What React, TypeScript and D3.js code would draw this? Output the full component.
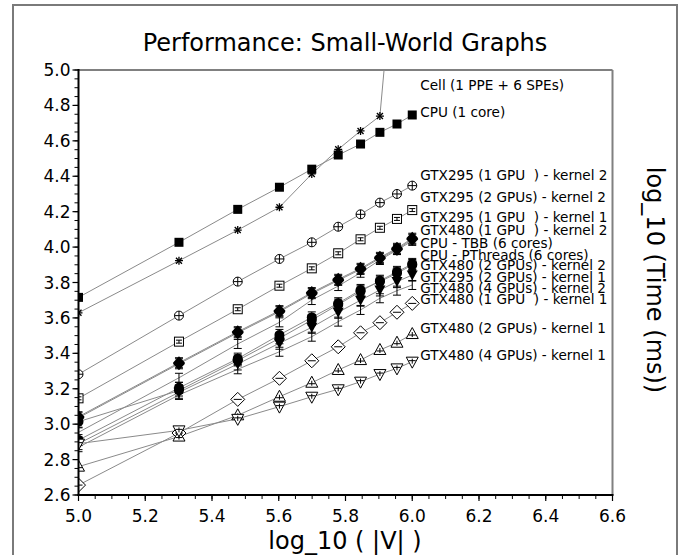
import React from "react";
import * as d3 from "d3";

// ---------- data ----------
const X_LOG = [5.0, 5.30103, 5.47712, 5.60206, 5.69897, 5.77815, 5.8451, 5.90309, 5.95424, 6.0];

const CELL = [3.629, 3.923, 4.096, 4.225, 4.413, 4.552, 4.656, 4.74, 5.81];
const CPU_1 = [3.716, 4.027, 4.213, 4.338, 4.44, 4.52, 4.582, 4.648, 4.695, 4.746];
const GTX295_1_K2 = [3.282, 3.613, 3.805, 3.933, 4.027, 4.115, 4.185, 4.251, 4.3, 4.347];
const GTX295_2_K2 = [3.146, 3.466, 3.649, 3.782, 3.88, 3.965, 4.044, 4.109, 4.159, 4.209];
const GTX295_1_K1 = [2.954, 3.262, 3.453, 3.575, 3.701, 3.78, 3.855, 3.927, 3.983, 4.035];
const GTX480_1_K2 = [3.036, 3.341, 3.516, 3.635, 3.737, 3.812, 3.874, 3.936, 3.987, 4.044];
const CPU_TBB = [3.042, 3.347, 3.522, 3.641, 3.743, 3.818, 3.88, 3.942, 3.993, 4.05];
const CPU_PTHREADS = [3.014, 3.19, 3.36, 3.485, 3.588, 3.675, 3.75, 3.81, 3.86, 3.905];
const GTX480_2_K2 = [2.91, 3.205, 3.37, 3.504, 3.603, 3.683, 3.758, 3.805, 3.852, 3.899];
const GTX295_2_K1 = [2.89, 3.18, 3.34, 3.457, 3.547, 3.632, 3.7, 3.758, 3.805, 3.842];
const GTX480_4_K2 = [2.87, 3.165, 3.31, 3.409, 3.494, 3.579, 3.645, 3.711, 3.754, 3.786];
const GTX480_1_K1 = [2.656, 2.95, 3.14, 3.259, 3.358, 3.437, 3.516, 3.573, 3.632, 3.682];
const GTX480_2_K1 = [2.76, 2.93, 3.05, 3.155, 3.234, 3.306, 3.362, 3.419, 3.46, 3.509];
const GTX480_4_K1 = [2.89, 2.965, 3.03, 3.099, 3.155, 3.197, 3.24, 3.283, 3.315, 3.353];

const SERIES_NAMES = [
  "Cell (1 PPE + 6 SPEs)",
  "CPU (1 core)",
  "GTX295 (1 GPU  ) - kernel 2",
  "GTX295 (2 GPUs) - kernel 2",
  "GTX295 (1 GPU  ) - kernel 1",
  "GTX480 (1 GPU  ) - kernel 2",
  "CPU - TBB (6 cores)",
  "CPU - PThreads (6 cores)",
  "GTX480 (2 GPUs) - kernel 2",
  "GTX295 (2 GPUs) - kernel 1",
  "GTX480 (4 GPUs) - kernel 2",
  "GTX480 (1 GPU  ) - kernel 1",
  "GTX480 (2 GPUs) - kernel 1",
  "GTX480 (4 GPUs) - kernel 1",
];
const SERIES_VALUES = [
  CELL, CPU_1, GTX295_1_K2, GTX295_2_K2, GTX295_1_K1, GTX480_1_K2, CPU_TBB,
  CPU_PTHREADS, GTX480_2_K2, GTX295_2_K1, GTX480_4_K2, GTX480_1_K1, GTX480_2_K1, GTX480_4_K1,
];

const X_TICKS = [5.0, 5.2, 5.4, 5.6, 5.8, 6.0, 6.2, 6.4, 6.6];
const Y_TICKS = [2.6, 2.8, 3.0, 3.2, 3.4, 3.6, 3.8, 4.0, 4.2, 4.4, 4.6, 4.8, 5.0];

// ---------- layout / style ----------
const MARKERS = [
  "asterisk", "filledSquare", "openCircle", "openSquare", "bar", "filledDiamond",
  "filledDiamond", "filledCircle", "filledCircle", "filledTriDown", "bar",
  "openDiamond", "openTriUp", "openTriDown",
];
// label anchor heights (in axis units)
const LABEL_AT = [4.915, 4.765, 4.407, 4.284, 4.172, 4.096, 4.025, 3.955, 3.899, 3.833, 3.767, 3.705, 3.541, 3.391];

const W = 679;
const H = 555;
const PLOT = { left: 78.5, right: 612.5, top: 70, bottom: 495 };
const LINE_COLOR = "#8a8a8a";
const FONT = "DejaVu Sans, sans-serif";

function Marker({ type, x, y }: { type: string; x: number; y: number }) {
  const k = "#000";
  const bar = (h: number, w: number) => (
    <g stroke={k} strokeWidth={1}>
      <line x1={x} x2={x} y1={y - h} y2={y + h} />
      <line x1={x - w} x2={x + w} y1={y - h} y2={y - h} />
      <line x1={x - w} x2={x + w} y1={y + h} y2={y + h} />
    </g>
  );
  switch (type) {
    case "asterisk": {
      const r = 4;
      return (
        <g stroke={k} strokeWidth={1.3}>
          <line x1={x - r} x2={x + r} y1={y} y2={y} />
          <line x1={x} x2={x} y1={y - r} y2={y + r} />
          <line x1={x - r * 0.75} x2={x + r * 0.75} y1={y - r * 0.75} y2={y + r * 0.75} />
          <line x1={x - r * 0.75} x2={x + r * 0.75} y1={y + r * 0.75} y2={y - r * 0.75} />
        </g>
      );
    }
    case "filledSquare":
      return <rect x={x - 4.5} y={y - 4.5} width={9} height={9} fill={k} />;
    case "openCircle":
      return (
        <g>
          <circle cx={x} cy={y} r={4.5} fill="#fff" stroke={k} strokeWidth={1} />
          <line x1={x} x2={x} y1={y - 4.5} y2={y + 4.5} stroke={k} />
          <line x1={x - 4.5} x2={x + 4.5} y1={y} y2={y} stroke={k} />
        </g>
      );
    case "openSquare":
      return (
        <g>
          <rect x={x - 4.5} y={y - 4.5} width={9} height={9} fill="#fff" stroke={k} strokeWidth={1} />
          <line x1={x - 3} x2={x + 3} y1={y - 1.5} y2={y - 1.5} stroke={k} />
          <line x1={x - 3} x2={x + 3} y1={y + 1.5} y2={y + 1.5} stroke={k} />
          <line x1={x} x2={x} y1={y - 1.5} y2={y + 1.5} stroke={k} />
        </g>
      );
    case "filledDiamond":
      return (
        <g>
          <path d={`M${x},${y - 6.5}L${x + 6},${y}L${x},${y + 6.5}L${x - 6},${y}Z`} fill={k} />
          {bar(5, 4)}
        </g>
      );
    case "filledCircle":
      return (
        <g>
          <circle cx={x} cy={y} r={5} fill={k} />
          {bar(5.5, 4)}
        </g>
      );
    case "filledTriDown":
      return (
        <g>
          <path d={`M${x - 5.5},${y - 4.5}L${x + 5.5},${y - 4.5}L${x},${y + 5.5}Z`} fill={k} />
          {bar(6, 4)}
        </g>
      );
    case "bar":
      return bar(4.5, 4);
    case "openDiamond":
      return (
        <g>
          <path d={`M${x},${y - 7}L${x + 7},${y}L${x},${y + 7}L${x - 7},${y}Z`} fill="#fff" stroke={k} strokeWidth={1} />
          <line x1={x - 4} x2={x + 4} y1={y} y2={y} stroke={k} />
        </g>
      );
    case "openTriUp":
      return (
        <g>
          <path d={`M${x},${y - 6.5}L${x + 6},${y + 4.5}L${x - 6},${y + 4.5}Z`} fill="#fff" stroke={k} strokeWidth={1} />
          <line x1={x - 3.5} x2={x + 3.5} y1={y + 1} y2={y + 1} stroke={k} />
          <line x1={x} x2={x} y1={y - 2} y2={y + 3} stroke={k} />
        </g>
      );
    case "openTriDown":
      return (
        <g>
          <path d={`M${x - 6},${y - 4.5}L${x + 6},${y - 4.5}L${x},${y + 6.5}Z`} fill="#fff" stroke={k} strokeWidth={1} />
          <line x1={x - 3.5} x2={x + 3.5} y1={y - 1} y2={y - 1} stroke={k} />
          <line x1={x} x2={x} y1={y - 3} y2={y + 2} stroke={k} />
        </g>
      );
    default:
      return null;
  }
}

export default function App() {
  const x = d3.scaleLinear().domain([5.0, 6.6]).range([PLOT.left, PLOT.right]);
  const y = d3.scaleLinear().domain([2.6, 5.0]).range([PLOT.bottom, PLOT.top]);

  const line = d3
    .line<[number, number]>()
    .x((d) => x(d[0]))
    .y((d) => y(d[1]));

  const minorX = d3.range(0, 33).map((i) => 5.0 + i * 0.05);
  const minorY = d3.range(0, 49).map((i) => 2.6 + i * 0.05);

  const seriesPts = SERIES_VALUES.map((vals) => vals.map((v, i) => [X_LOG[i], v] as [number, number]));

  return (
    <svg
      width={W}
      height={H}
      style={{ position: "absolute", left: 0, top: 0, background: "#fff" }}
      fontFamily={FONT}
    >
      <defs>
        <clipPath id="plotClip">
          <rect x={PLOT.left} y={PLOT.top} width={PLOT.right - PLOT.left} height={PLOT.bottom - PLOT.top} />
        </clipPath>
      </defs>
      <rect x={0} y={0} width={W} height={H} fill="#fff" />
      {/* outer frame */}
      <rect x={13} y={5} width={664} height={H + 20} fill="none" stroke="#7a7a7a" strokeWidth={2} />

      {/* title */}
      <text x={345} y={51} textAnchor="middle" fontSize={24} fill="#000">
        Performance: Small-World Graphs
      </text>

      {/* plot border (top / right) */}
      <line x1={PLOT.left} x2={PLOT.right} y1={PLOT.top} y2={PLOT.top} stroke="#808080" strokeWidth={2} />
      <line x1={PLOT.right} x2={PLOT.right} y1={PLOT.top} y2={PLOT.bottom} stroke="#808080" strokeWidth={2} />

      {/* series lines */}
      <g clipPath="url(#plotClip)">
        {seriesPts.map((pts, si) => (
          <path key={si} d={line(pts) || ""} fill="none" stroke={LINE_COLOR} strokeWidth={1} />
        ))}
      </g>

      {/* markers */}
      <g clipPath="url(#plotClip)">
        {seriesPts.map((pts, si) =>
          pts.map((p, pi) => <Marker key={`${si}-${pi}`} type={MARKERS[si]} x={x(p[0])} y={y(p[1])} />)
        )}
      </g>

      {/* series labels */}
      {SERIES_NAMES.map((name, si) => (
        <text
          key={name}
          x={x(6.0) + 8}
          y={y(LABEL_AT[si])}
          dominantBaseline="central"
          fontSize={13.6}
          fill="#000"
          style={{ whiteSpace: "pre" }}
        >
          {name}
        </text>
      ))}

      {/* y axis */}
      <line x1={PLOT.left} x2={PLOT.left} y1={PLOT.top - 1} y2={PLOT.bottom + 1} stroke="#000" strokeWidth={2} />
      {minorY.map((v, i) => (
        <line key={i} x1={PLOT.left - 4} x2={PLOT.left} y1={y(v)} y2={y(v)} stroke="#000" strokeWidth={1} />
      ))}
      {Y_TICKS.map((v) => (
        <g key={v}>
          <line x1={PLOT.left - 6} x2={PLOT.left} y1={y(v)} y2={y(v)} stroke="#000" strokeWidth={1.2} />
          <text x={PLOT.left - 8} y={y(v)} textAnchor="end" dominantBaseline="central" fontSize={17} fill="#000">
            {v.toFixed(1)}
          </text>
        </g>
      ))}

      {/* x axis */}
      <line x1={PLOT.left - 1} x2={PLOT.right + 1} y1={PLOT.bottom} y2={PLOT.bottom} stroke="#000" strokeWidth={2} />
      {minorX.map((v, i) => (
        <line key={i} x1={x(v)} x2={x(v)} y1={PLOT.bottom} y2={PLOT.bottom + 4} stroke="#000" strokeWidth={1} />
      ))}
      {X_TICKS.map((v) => (
        <g key={v}>
          <line x1={x(v)} x2={x(v)} y1={PLOT.bottom} y2={PLOT.bottom + 6} stroke="#000" strokeWidth={1.2} />
          <text x={x(v)} y={516} textAnchor="middle" dominantBaseline="central" fontSize={17} fill="#000">
            {v.toFixed(1)}
          </text>
        </g>
      ))}

      {/* axis titles */}
      <text x={345} y={541} textAnchor="middle" dominantBaseline="central" fontSize={24} fill="#000">
        log_10 ( |V| )
      </text>
      <text
        transform="translate(655,280) rotate(90)"
        textAnchor="middle"
        dominantBaseline="central"
        fontSize={24}
        fill="#000"
      >
        log_10 (Time (ms))
      </text>
    </svg>
  );
}
